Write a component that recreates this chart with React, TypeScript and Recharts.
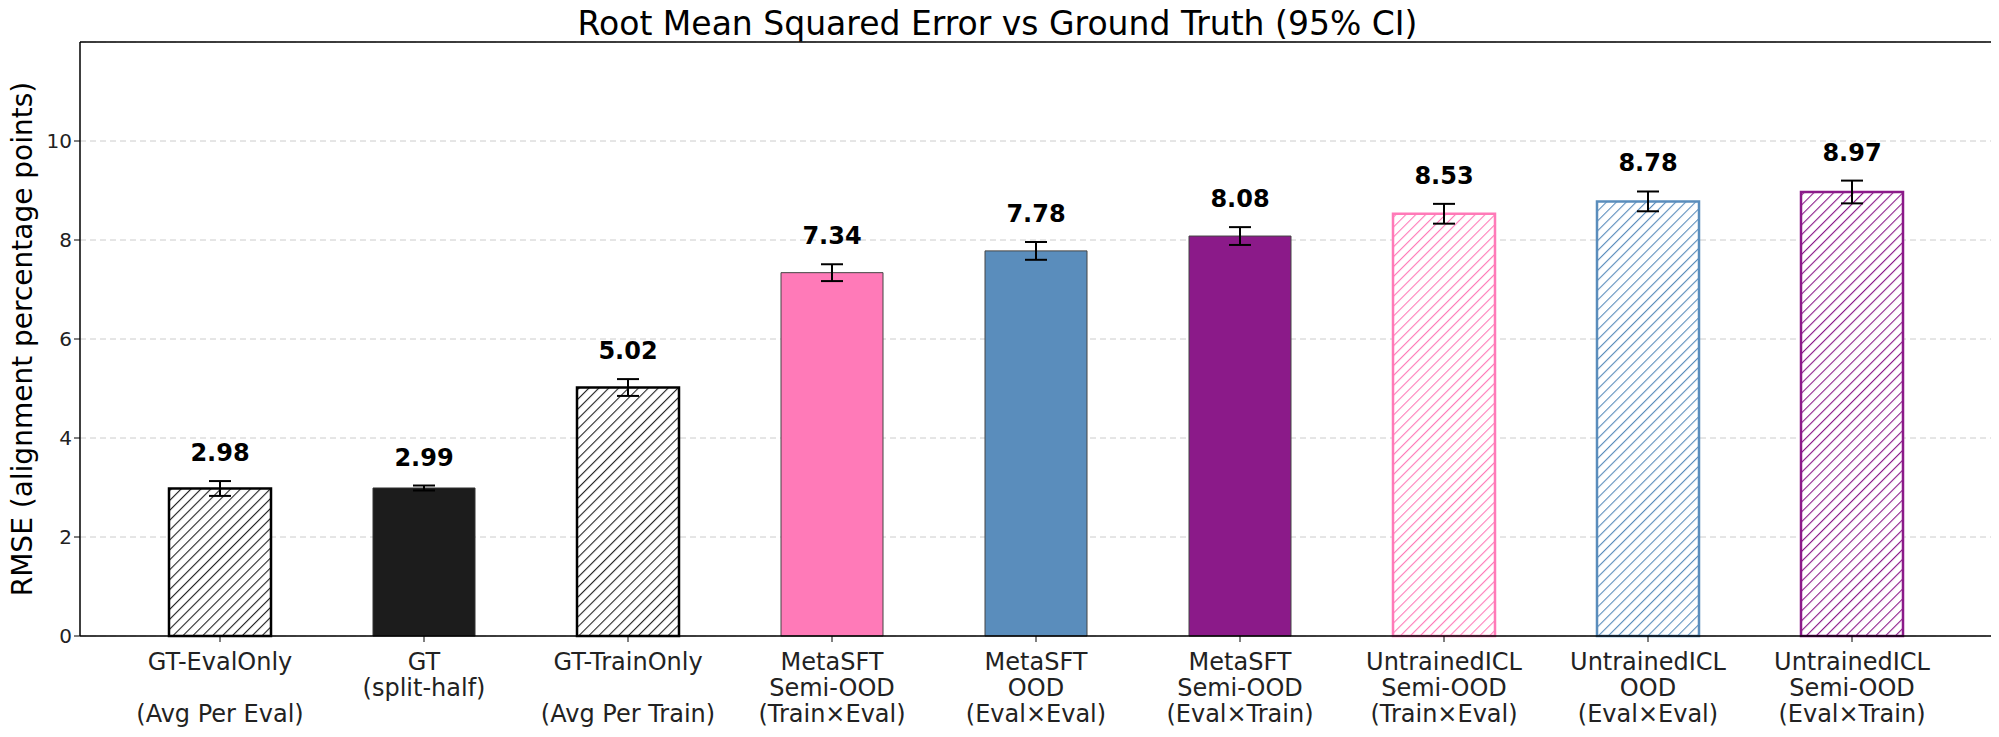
import React from 'react';
import { BarChart, Bar, XAxis, YAxis, CartesianGrid, ErrorBar, Cell, LabelList } from 'recharts';

const categories = [
  ['GT-EvalOnly', '', '(Avg Per Eval)'],
  ['GT', '(split-half)'],
  ['GT-TrainOnly', '', '(Avg Per Train)'],
  ['MetaSFT', 'Semi-OOD', '(Train×Eval)'],
  ['MetaSFT', 'OOD', '(Eval×Eval)'],
  ['MetaSFT', 'Semi-OOD', '(Eval×Train)'],
  ['UntrainedICL', 'Semi-OOD', '(Train×Eval)'],
  ['UntrainedICL', 'OOD', '(Eval×Eval)'],
  ['UntrainedICL', 'Semi-OOD', '(Eval×Train)'],
];
const values = [2.98, 2.99, 5.02, 7.34, 7.78, 8.08, 8.53, 8.78, 8.97];
const errors = [0.15, 0.05, 0.17, 0.17, 0.18, 0.18, 0.2, 0.2, 0.23];
const fills = ['url(#hBlack)', '#1c1c1c', 'url(#hBlack)', '#ff7ab8', '#5a8dbc', '#8b1a89', 'url(#hPink)', 'url(#hBlue)', 'url(#hPurple)'];
const strokes = ['#000', '#333', '#000', '#444', '#444', '#444', '#ff7ab8', '#5a8dbc', '#8b1a89'];
const strokeWidths = [2.5, 1, 2.5, 1, 1, 1, 2.5, 2.5, 2.5];
const yTicks = [0, 2, 4, 6, 8, 10];

const data = categories.map((c, i) => ({ key: String(i), value: values[i], err: errors[i] }));

const FONT = 'DejaVu Sans';

const Tick = (props: any) => {
  const { x, y, payload } = props;
  const lines = categories[Number(payload.value)];
  return (
    <g>
      <text x={x} y={y + 26} textAnchor="middle" fontFamily={FONT} fontSize={24} fill="#222">
        {lines.map((l, i) => (
          <tspan key={i} x={x} dy={i === 0 ? 0 : 26}>{l || '\u00a0'}</tspan>
        ))}
      </text>
    </g>
  );
};

const ValueLabel = (props: any) => {
  const { x, y, width, height, value, index } = props;
  const pxPerUnit = height / value;
  const top = y - errors[index] * pxPerUnit;
  return (
    <text x={x + width / 2} y={top - 20} textAnchor="middle" fontFamily={FONT} fontWeight="bold" fontSize={24} fill="#000">
      {value.toFixed(2)}
    </text>
  );
};

const YLabel = (props: any) => {
  const { viewBox } = props;
  const cy = viewBox.y + viewBox.height / 2;
  return (
    <text x={24} y={cy} transform={`rotate(-90 24 ${cy})`} textAnchor="middle" fontFamily={FONT} fontSize={28} fill="#000">
      RMSE (alignment percentage points)
    </text>
  );
};

const hatch = (id: string, color: string) => (
  <pattern id={id} patternUnits="userSpaceOnUse" width="7" height="7" patternTransform="rotate(45)">
    <rect width="7" height="7" fill="#fff" />
    <line x1="0" y1="0" x2="0" y2="7" stroke={color} strokeWidth="2.2" />
  </pattern>
);

export default function App() {
  return (
    <div style={{ width: 1991, height: 729, position: 'relative', fontFamily: FONT }}>
      <div style={{ position: 'absolute', top: -4, left: -6, width: 1991, textAlign: 'center', fontSize: 33, color: '#000' }}>
        Root Mean Squared Error vs Ground Truth (95% CI)
      </div>
      <BarChart width={1991} height={729} data={data} margin={{ top: 34, right: 7, bottom: 71, left: 0 }}>
        <defs>
          {hatch('hBlack', '#222')}
          {hatch('hPink', '#ff7ab8')}
          {hatch('hBlue', '#5a8dbc')}
          {hatch('hPurple', '#8b1a89')}
        </defs>
        <CartesianGrid vertical={false} stroke="#ccc" strokeDasharray="6 4" />
        <XAxis dataKey="key" height={30} tick={<Tick />} interval={0} padding={{ left: 38, right: 38 }} tickLine={{ stroke: '#000' }} tickSize={6} axisLine={{ stroke: '#000', strokeWidth: 1.5 }} />
        <YAxis domain={[0, 12]} ticks={yTicks} width={72} tick={{ fontFamily: FONT, fontSize: 20, fill: '#222' }} tickLine={{ stroke: '#000' }} axisLine={{ stroke: '#000', strokeWidth: 1.5 }}
          label={<YLabel />} />
        <line x1={72} x2={1984} y1={34} y2={34} stroke="#000" strokeWidth={1.5} />
        <line x1={1984} x2={1984} y1={34} y2={628} stroke="#000" strokeWidth={1.5} />
        <Bar dataKey="value" barSize={102} isAnimationActive={false}>
          {data.map((d, i) => (
            <Cell key={i} fill={fills[i]} stroke={strokes[i]} strokeWidth={strokeWidths[i]} />
          ))}
          <ErrorBar dataKey="err" width={11} stroke="#000" strokeWidth={2} direction="y" />
          <LabelList dataKey="value" content={<ValueLabel />} />
        </Bar>
      </BarChart>
    </div>
  );
}
